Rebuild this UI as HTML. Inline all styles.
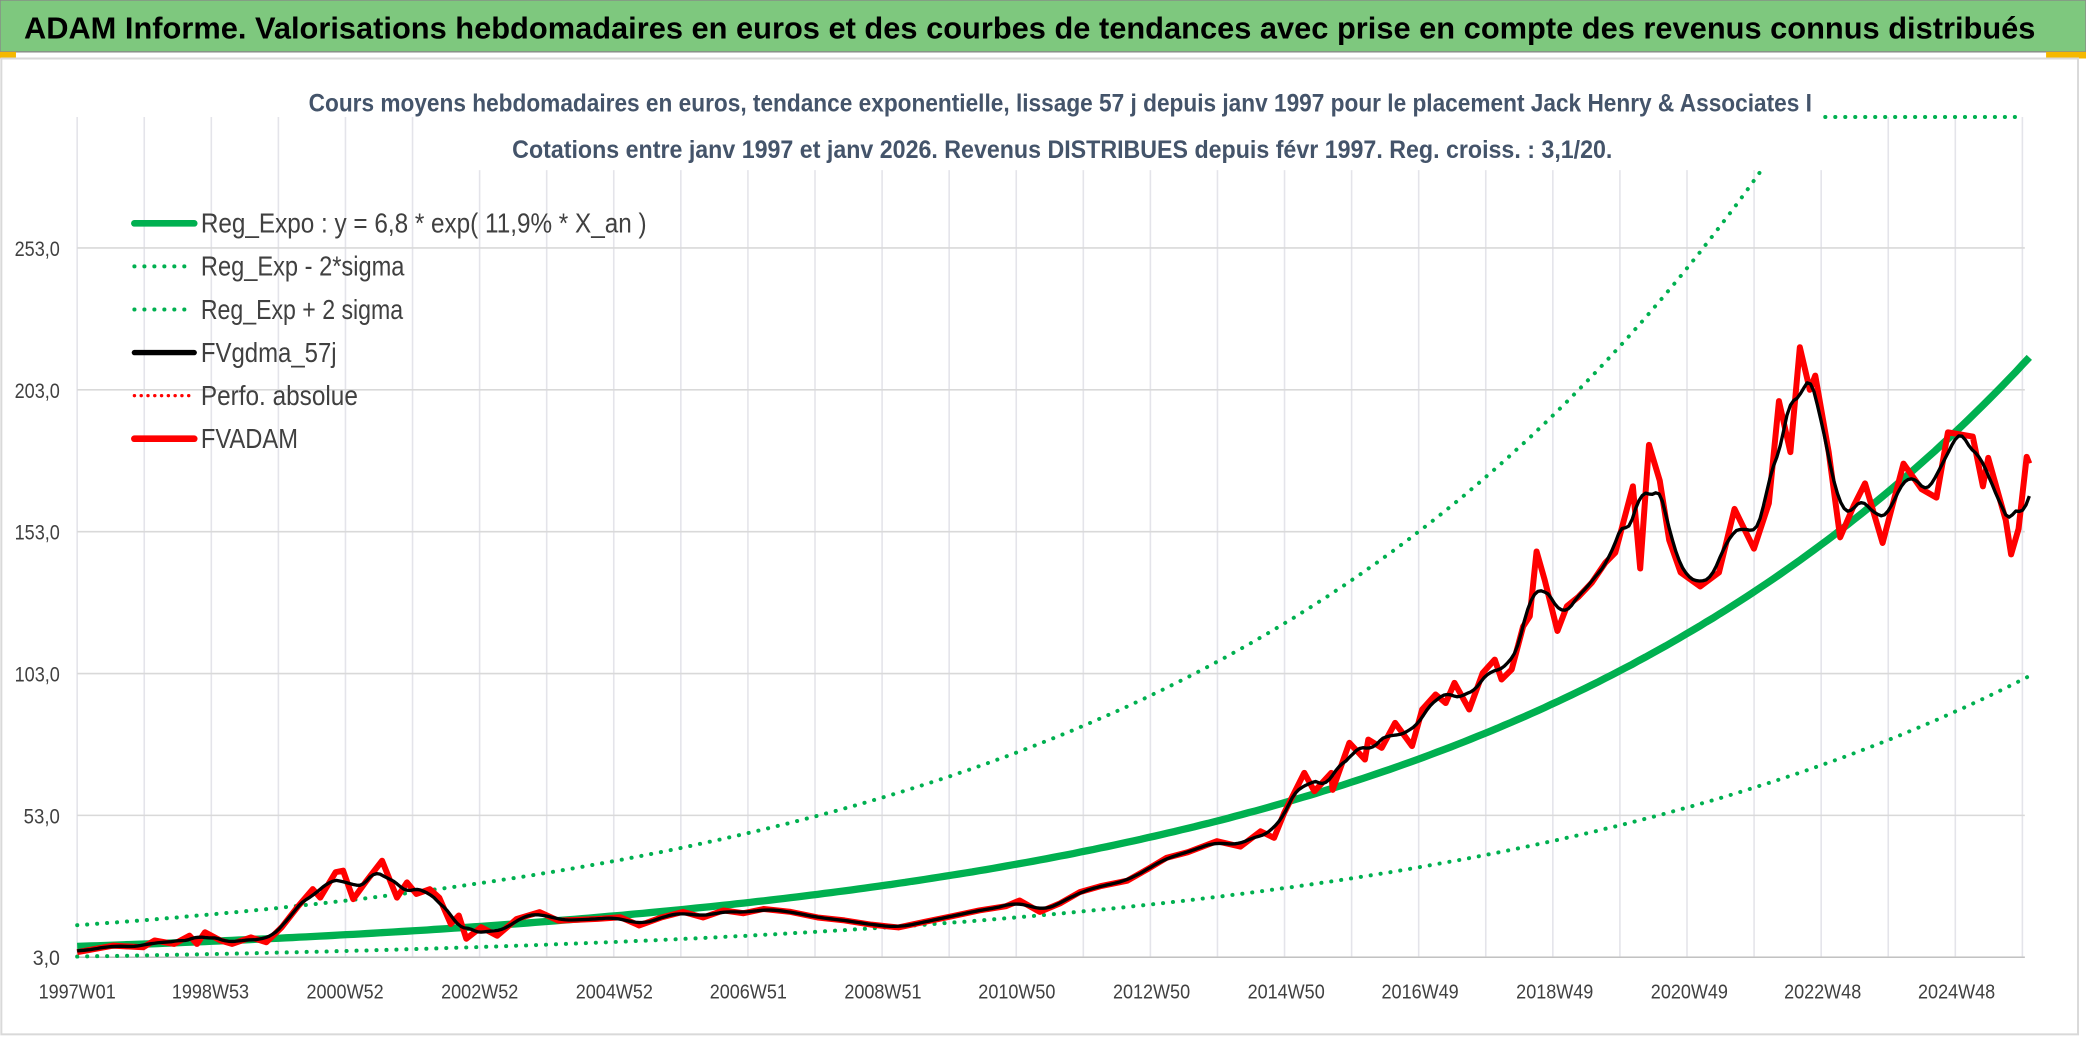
<!DOCTYPE html>
<html><head><meta charset="utf-8"><style>
html,body{margin:0;padding:0;background:#fff;}
svg{display:block;}
text{font-family:"Liberation Sans Narrow","Liberation Sans",sans-serif;}
</style></head><body>
<svg id="chart" width="2086" height="1037" viewBox="0 0 1568 780" preserveAspectRatio="none" xmlns="http://www.w3.org/2000/svg">
<rect x="0" y="0" width="1568" height="780" fill="#fff"/>
<rect x="0" y="0" width="1568" height="39" fill="#7ec87e" stroke="#888" stroke-width="1"/>
<rect x="0" y="39" width="12" height="5" fill="#f5b800"/>
<rect x="1538" y="39" width="30" height="5" fill="#f5b800"/>
<rect x="1" y="44" width="1561" height="734" fill="#fff" stroke="#d9d9d9" stroke-width="1.5"/>
<text x="18" y="29" font-size="23" font-weight="bold" fill="#000" textLength="1512" lengthAdjust="spacingAndGlyphs">ADAM Informe. Valorisations hebdomadaires en euros et des courbes de tendances avec prise en compte des revenus connus distribués</text>
<text x="232" y="84" font-size="19" font-weight="bold" fill="#44546a" textLength="1130" lengthAdjust="spacingAndGlyphs">Cours moyens hebdomadaires en euros, tendance exponentielle, lissage 57 j depuis janv 1997 pour le placement Jack Henry &amp; Associates I</text>
<text x="385" y="119" font-size="19" font-weight="bold" fill="#44546a" textLength="827" lengthAdjust="spacingAndGlyphs">Cotations entre janv 1997 et janv 2026. Revenus DISTRIBUES depuis févr 1997. Reg. croiss. : 3,1/20.</text>
<g id="grid"></g>
<g id="axes"></g>
<defs><clipPath id="plotclip"><rect x="50" y="128" width="1480" height="600"/></clipPath></defs>
<g id="series" clip-path="url(#plotclip)"></g>
<line x1="1372" y1="88" x2="1520" y2="88" stroke="#00b050" stroke-width="3" stroke-dasharray="0.1 7.4" stroke-linecap="round"/>
<g id="legend"></g>
</svg>
<script>
const times = [1997.0,1997.53,1997.98,1998.15,1998.44,1998.67,1998.78,1998.9,1999.13,1999.3,1999.58,1999.81,2000.04,2000.27,2000.5,2000.61,2000.84,2000.95,2001.1,2001.3,2001.53,2001.75,2001.9,2002.04,2002.24,2002.38,2002.55,2002.67,2002.78,2003.0,2003.24,2003.53,2003.87,2004.15,2004.73,2005.07,2005.35,2005.69,2006.0,2006.3,2006.6,2006.9,2007.2,2007.6,2008.0,2008.4,2008.8,2009.2,2009.6,2010.0,2010.4,2010.8,2011.0,2011.3,2011.6,2011.9,2012.2,2012.6,2012.9,2013.18,2013.5,2013.93,2014.28,2014.58,2014.78,2014.93,2015.23,2015.38,2015.63,2015.65,2015.9,2016.13,2016.18,2016.38,2016.58,2016.83,2016.98,2017.18,2017.33,2017.46,2017.68,2017.88,2018.06,2018.16,2018.31,2018.48,2018.58,2018.68,2018.8,2018.99,2019.13,2019.3,2019.5,2019.7,2019.85,2020.11,2020.22,2020.35,2020.51,2020.65,2020.82,2021.11,2021.39,2021.62,2021.91,2022.13,2022.28,2022.45,2022.59,2022.74,2022.82,2023.02,2023.19,2023.39,2023.56,2023.82,2024.13,2024.4,2024.62,2024.79,2025.16,2025.31,2025.39,2025.65,2025.73,2025.84,2025.96,2026.0];
const fvadam = [4.8,7.1,6.5,8.9,7.7,10.6,7.7,11.8,8.9,7.7,10,8.3,13.6,20.6,27,24,33,33.5,23.5,30,37,24,29.4,25.3,27,24,14.7,17.7,9.5,13.6,10.6,16.5,18.9,15.9,16.5,17.1,14.2,17.1,19,17,19.5,18.5,20,19,17,16,14.5,13.5,15.5,17.5,19.5,21,23,19,22,26,28,30,34,38,40,43.9,42,47.4,45.1,53.9,68,61.5,68,62,78.6,72.7,79.7,76.8,85.6,77.4,90.3,95.6,92.6,99.7,90.3,103.2,107.9,100.9,104.4,119.6,123.2,146,136,118,126.7,130,135,142,145.6,169,140,183.6,171,150,138.6,133.7,138.6,161,147,163,199,181,218,203,208,181,151,162,170,149,177,168,165,188,186.5,169,179,157,145,154,179.4,177];
const yTicks = [3,53,103,153,203,253];
const yTickLabels = ["3,0","53,0","103,0","153,0","203,0","253,0"];
const xTickTimes = [1997.0,1998.98,2000.98,2002.98,2004.98,2006.97,2008.97,2010.96,2012.96,2014.96,2016.95,2018.95,2020.95,2022.93,2024.92];
const xTickLabels = ["1997W01","1998W53","2000W52","2002W52","2004W52","2006W51","2008W51","2010W50","2012W50","2014W50","2016W49","2018W49","2020W49","2022W48","2024W48"];
const regA = 6.8, regB = 0.119, bandFactor = 2.1;

const NS = "http://www.w3.org/2000/svg";
const X = t => 58 + (t - 1997) * 50.6;
const Y = v => 720 - (v - 3) * 2.134;
function mk(tag, attrs, parent){const e=document.createElementNS(NS,tag);for(const k in attrs)e.setAttribute(k,attrs[k]);parent.appendChild(e);return e;}
const grid=document.getElementById('grid'), axes=document.getElementById('axes'), series=document.getElementById('series'), legend=document.getElementById('legend');

for(let k=0; k<=29; k++){
  const gx=58+k*50.42;
  const gl=mk('line',{x1:gx,y1:(gx<360||gx>1370?88:128),x2:gx,y2:720,stroke:'#e4e4ea','stroke-width':1.2},grid);
  
  
}
yTicks.forEach((v,i)=>{
  const l=mk('line',{x1:58,y1:Y(v),x2:1522,y2:Y(v),stroke:'#d9d9d9','stroke-width':1.2},grid);
  
  
  const w=yTickLabels[i].length*6.8;
  const t=mk('text',{x:45-w,y:Y(v)+6,'font-size':16,fill:'#404040',textLength:w,lengthAdjust:'spacingAndGlyphs'},axes);
  t.textContent=yTickLabels[i];
  
  
});
const xa=mk('line',{x1:58,y1:720,x2:1522,y2:720,stroke:'#bfbfbf','stroke-width':1},axes);


xTickTimes.forEach((tt,i)=>{
  const t=mk('text',{x:X(tt)-29,y:751,'font-size':15,fill:'#404040',textLength:58,lengthAdjust:'spacingAndGlyphs'},axes);
  t.textContent=xTickLabels[i];
  
  
});

function pathFrom(ts, vs){return ts.map((t,i)=>(i?'L':'M')+X(t).toFixed(1)+','+Y(vs[i]).toFixed(1)).join(' ');}
const regT=[], reg=[], up=[], lo=[];
for(let t=1997; t<=2026.001; t+=0.1){regT.push(t); const r=regA*Math.exp(regB*(t-1997)); reg.push(r); up.push(r*bandFactor); lo.push(r/bandFactor);}
const pLo=mk('path',{d:pathFrom(regT,lo),fill:'none',stroke:'#00b050','stroke-width':3,'stroke-dasharray':'0.1 7.4','stroke-linecap':'round'},series);


const pUp=mk('path',{d:pathFrom(regT,up),fill:'none',stroke:'#00b050','stroke-width':3,'stroke-dasharray':'0.1 7.4','stroke-linecap':'round'},series);


const pReg=mk('path',{d:pathFrom(regT,reg),fill:'none',stroke:'#00b050','stroke-width':5.5},series);


const pRed=mk('path',{d:pathFrom(times,fvadam),fill:'none',stroke:'#ff0000','stroke-width':4.5,'stroke-linejoin':'round'},series);



// smoothed (derived) series: resample red linearly, then moving average
function interp(t){let i=0;while(i<times.length-2&&times[i+1]<t)i++;const t0=times[i],t1=times[i+1];const f=Math.max(0,Math.min(1,(t-t0)/(t1-t0)));return fvadam[i]+(fvadam[i+1]-fvadam[i])*f;}
const gT=[], gV=[];
for(let t=times[0]; t<=times[times.length-1]+1e-9; t+=0.05){gT.push(t); gV.push(interp(t));}
const sT=[], sV=[];
gT.forEach((t0,i)=>{let s=0,n=0;gT.forEach((t,j)=>{if(Math.abs(t-t0)<=0.2){s+=gV[j];n++;}});sT.push(t0);sV.push(s/n);});
const pBlk=mk('path',{d:pathFrom(sT,sV),fill:'none',stroke:'#000','stroke-width':2.5,'stroke-linejoin':'round'},series);



const legItems=[
 ['Reg_Expo : y = 6,8 * exp( 11,9% *  X_an )','#00b050',5,null,335],
 ['Reg_Exp - 2*sigma','#00b050',3,'0.1 7.4',153],
 ['Reg_Exp + 2 sigma','#00b050',3,'0.1 7.4',152],
 ['FVgdma_57j','#000',4,null,102],
 ['Perfo. absolue','#ff0000',2.5,'0.1 5',118],
 ['FVADAM','#ff0000',5,null,73]];
legItems.forEach((it,i)=>{
  const y=168+i*32.4;
  const g=mk('g',{},legend);
  
  
  const a={x1:101,y1:y,x2:146,y2:y,stroke:it[1],'stroke-width':it[2],'stroke-linecap':'round'};
  if(it[3])a['stroke-dasharray']=it[3];
  mk('line',a,g);
  const t=mk('text',{x:151,y:y+7,'font-size':21,fill:'#404040',textLength:it[4],lengthAdjust:'spacingAndGlyphs'},g);
  t.textContent=it[0];
});
</script>
</body></html>
